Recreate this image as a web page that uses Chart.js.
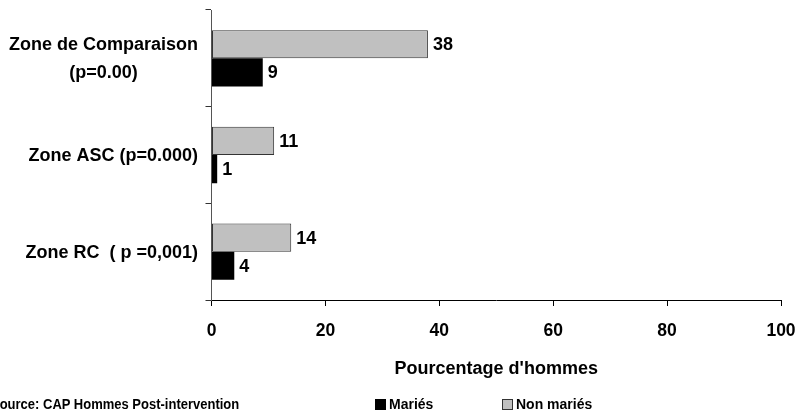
<!DOCTYPE html>
<html>
<head>
<meta charset="utf-8">
<script src="https://cdn.jsdelivr.net/npm/chart.js@4"></script>
<style>
  body { margin: 0; background: #fff; }
  #wrap { position: relative; width: 798px; height: 413px; overflow: hidden; font-family: 'Liberation Sans', Arial, sans-serif; font-weight: bold; color: #000; }
  #source { position: absolute; left: -9px; top: 396px; font-size: 13px; white-space: nowrap; transform: scaleY(1.15); }
  .leg { position: absolute; top: 396px; font-size: 14px; white-space: nowrap; line-height: 17px; }
  .leg span.t { display: inline-block; transform: scaleY(1.1); }
  .sw { display: inline-block; width: 9px; height: 9px; margin-right: 3px; vertical-align: -1px; }
</style>
</head>
<body>
<div id="wrap">
  <canvas id="chart" width="798" height="413"></canvas>
  <div id="source">Source: CAP Hommes Post-intervention</div>
  <div class="leg" style="left:375px"><span class="sw" style="background:#000;border:1px solid #000"></span><span class="t">Mariés</span></div>
  <div class="leg" style="left:502px"><span class="sw" style="background:#c0c0c0;border:1px solid #333"></span><span class="t">Non mariés</span></div>
</div>
<script>
// categories (multi-line labels) and series
const categories = [["Zone de Comparaison", "(p=0.00)"], ["Zone ASC (p=0.000)"], ["Zone RC  ( p =0,001)"]];
const nonMaries = [38, 11, 14];
const maries = [9, 1, 4];
const xTicks = [0, 20, 40, 60, 80, 100];

const FONT = "'Liberation Sans', Arial, sans-serif";

// value labels at the end of each bar
const valueLabels = {
  id: 'valueLabels',
  afterDatasetsDraw(chart) {
    const ctx = chart.ctx;
    ctx.save();
    ctx.font = "bold 18px " + FONT;
    ctx.fillStyle = '#000';
    ctx.textAlign = 'left';
    ctx.textBaseline = 'middle';
    chart.data.datasets.forEach((ds, i) => {
      chart.getDatasetMeta(i).data.forEach((bar, j) => {
        ctx.fillText(String(ds.data[j]), bar.x + 5, bar.y + 1);
      });
    });
    ctx.restore();
  }
};

// category labels: lines centered on each other, block right-aligned
const catLabels = {
  id: 'catLabels',
  afterDraw(chart) {
    const ctx = chart.ctx;
    const y = chart.scales.y;
    ctx.save();
    ctx.font = "bold 18px " + FONT;
    ctx.fillStyle = '#000';
    ctx.textAlign = 'center';
    ctx.textBaseline = 'middle';
    const right = 198;
    categories.forEach((lines, i) => {
      const w = Math.max(...lines.map(l => ctx.measureText(l).width));
      const cx = right - w / 2;
      const cy = y.getPixelForValue(i) + 1;
      const lh = 28;
      lines.forEach((l, k) => {
        ctx.fillText(l, cx, cy + (k - (lines.length - 1) / 2) * lh);
      });
    });
    ctx.restore();
  }
};

new Chart(document.getElementById('chart'), {
  type: 'bar',
  data: {
    labels: categories.map(c => c.join(' ')),
    datasets: [
      {
        label: 'Non mariés',
        data: nonMaries,
        backgroundColor: '#c0c0c0',
        borderColor: '#333',
        borderWidth: 1,
        borderSkipped: false
      },
      {
        label: 'Mariés',
        data: maries,
        backgroundColor: '#000',
        borderColor: '#000',
        borderWidth: 0
      }
    ]
  },
  options: {
    indexAxis: 'y',
    responsive: false,
    animation: false,
    categoryPercentage: 0.582,
    barPercentage: 1.0,
    layout: { padding: { top: 10, right: 17, bottom: 33, left: 0 } },
    plugins: {
      legend: { display: false },
      tooltip: { enabled: false }
    },
    scales: {
      x: {
        min: 0,
        max: 100,
        afterBuildTicks: (scale) => { scale.ticks = xTicks.map(v => ({ value: v })); },
        ticks: { color: '#000', font: { family: FONT, size: 17.5, weight: 'bold' }, padding: 15, maxRotation: 0 },
        grid: { drawOnChartArea: false, drawTicks: true, tickLength: 6, color: '#000' },
        border: { color: '#000', width: 1 },
        title: { display: true, text: "Pourcentage d'hommes", color: '#000', font: { family: FONT, size: 18, weight: 'bold' }, padding: 0 },
        afterFit: (scale) => { scale.height = 80; scale.paddingLeft = 0; scale.paddingRight = 0; }
      },
      y: {
        ticks: { display: false },
        grid: { offset: true, drawOnChartArea: false, drawTicks: true, tickLength: 6, color: '#333' },
        border: { color: '#555', width: 1 },
        afterFit: (scale) => { scale.width = 211.5; }
      }
    }
  },
  plugins: [valueLabels, catLabels]
});
</script>
</body>
</html>
